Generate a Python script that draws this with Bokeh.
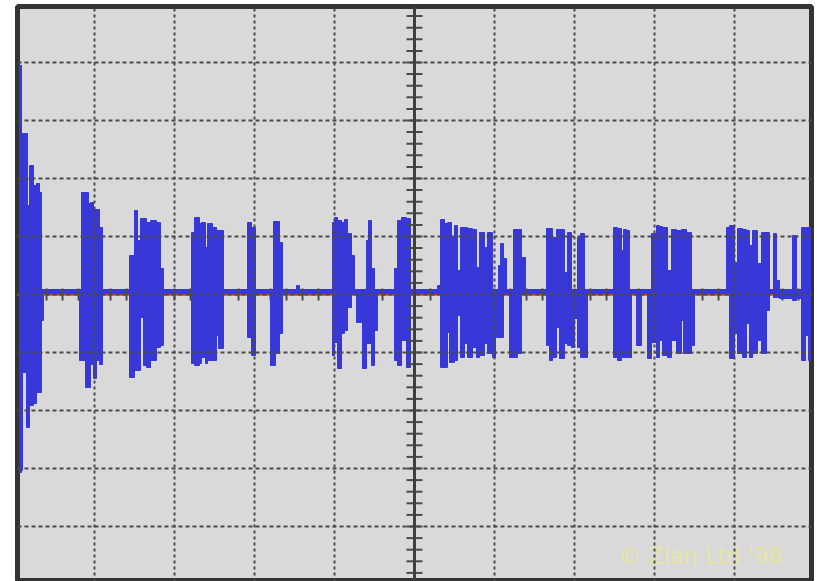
from bokeh.plotting import figure
from bokeh.models import Range1d, Grid, FixedTicker, Span, Label, ColumnDataSource
from bokeh.embed import file_html
from bokeh.resources import INLINE

# Time axis: 0..800 (80 units per division); voltage axis: 58 units per division
x_major = [80, 160, 240, 320, 480, 560, 640, 720]
y_major = [-232, -174, -116, -58, 0, 58, 116, 174, 232]
x_minor = list(range(16, 800, 16))
y_minor = [round(11.6 * k, 1) for k in range(-24, 25) if k != 0]

# Blue trace: flat level between bursts
flat_t = [5, 796]
flat_v = [3, 3]
# Red reference trace
ref_t = [0, 800]
ref_v = [0, 0]

# Blue trace bursts: envelope columns (start, end, peak high, peak low)
col_t0 = [5, 7, 8, 12, 13, 15, 19, 22, 25, 27,
          65, 67, 71, 74, 76, 79, 82, 85,
          115, 120, 123, 126, 129, 132, 136, 142, 146,
          177, 180, 185, 187, 191, 193, 198, 202, 204,
          233, 237,
          256, 259, 261, 263, 265,
          282,
          318, 320, 323, 327, 330, 333, 337,
          342,
          348, 352, 354, 357, 360,
          380, 383, 387, 392,
          423, 426, 430, 433, 435, 437, 440, 443, 446, 450, 453, 458, 462, 465, 470, 473, 478,
          482, 484, 486, 489,
          495, 499, 503, 507,
          532, 535, 538, 542, 545, 550, 553, 557, 560, 563, 566, 570,
          599, 603, 607, 609, 612, 615, 622,
          633, 637, 642, 645, 648, 653, 657, 662, 667, 669, 672, 677,
          712, 715, 720, 723, 728, 732, 735, 738, 743, 747, 752,
          759, 762, 765, 778,
          787, 791, 794]
col_t1 = [7, 8, 12, 13, 15, 19, 22, 25, 27, 29,
          67, 71, 74, 76, 79, 82, 85, 88,
          120, 123, 126, 129, 132, 136, 142, 146, 149,
          180, 185, 187, 191, 193, 198, 202, 204, 209,
          237, 241,
          259, 261, 263, 265, 268,
          285,
          320, 323, 327, 330, 333, 337, 340,
          347,
          352, 354, 357, 360, 363,
          383, 387, 392, 396,
          426, 430, 433, 435, 437, 440, 443, 446, 450, 453, 458, 462, 465, 470, 473, 478, 481,
          484, 486, 489, 492,
          499, 503, 507, 511,
          535, 538, 542, 545, 550, 553, 557, 560, 563, 566, 570, 573,
          603, 607, 609, 612, 615, 617, 627,
          637, 642, 645, 648, 653, 657, 662, 667, 669, 672, 677, 680,
          715, 720, 723, 728, 732, 735, 738, 743, 747, 752, 755,
          762, 765, 787, 782,
          791, 794, 796]
col_hi = [229, 161, 161, 161, 89, 129, 109, 111, 102, 4,
          4, 102, 102, 91, 92, 85, 85, 67,
          39, 84, 54, 76, 76, 72, 74, 72, 26,
          62, 77, 71, 72, 47, 71, 67, 64, 64,
          72, 67,
          4, 73, 73, 73, 52,
          9,
          72, 77, 74, 72, 75, 61, 39,
          3,
          3, 54, 74, 26, 3,
          26, 74, 77, 76,
          9, 75, 71, 72, 72, 57, 69, 24, 67, 67, 66, 65, 27, 62, 47, 62, 3,
          3, 29, 51, 36,
          3, 65, 65, 37,
          66, 66, 57, 65, 65, 22, 62, 3, 3, 57, 61, 3,
          67, 66, 44, 65, 64, 3, 3,
          3, 61, 69, 68, 67, 24, 65, 64, 65, 65, 62, 3,
          67, 69, 32, 66, 65, 64, 49, 64, 31, 62, 62,
          61, 14, 2, 59,
          67, 67, 67]
col_lo = [-178, -176, -78, -133, -133, -111, -109, -98, -98, -26,
          -66, -66, -93, -93, -70, -84, -66, -70,
          -83, -76, -76, -23, -71, -73, -66, -53, -51,
          -69, -71, -69, -63, -69, -66, -66, -41, -54,
          -43, -61,
          -71, -71, -59, -59, -39,
          1,
          -61, -48, -74, -39, -36, -13, 0,
          -28,
          -74, -49, -49, -71, -36,
          -66, -71, -46, -73,
          0, -73, -73, -38, -68, -68, -66, -21, -63, -49, -63, -53, -63, -61, -49, -59, -63,
          -43, -43, -43, 0,
          -63, -63, -59, 0,
          -51, -66, -63, -33, -64, -49, -51, -53, -24, -53, -63, -63,
          -63, -66, -63, -63, -63, -63, -51,
          -64, -48, -63, -46, -61, -63, -46, -59, -26, -59, -59, -51,
          0, -64, -39, -59, -63, -29, -63, -59, -46, -59, -16,
          -3, -3, -4, -6,
          -66, -41, -66]

BG = "#d9d9d9"
BLUE = "#3838d9"
RED = "#e03a3a"
DARK = "#4a4a4a"

p = figure(width=817, height=581,
           x_range=Range1d(3, 797), y_range=Range1d(-287, 288),
           x_axis_type=None, y_axis_type=None,
           toolbar_location=None, output_backend="svg",
           min_border_left=17, min_border_right=6,
           min_border_top=6, min_border_bottom=0,
           background_fill_color=BG, border_fill_color="white",
           outline_line_color="#333333", outline_line_width=5)
p.xgrid.visible = False
p.ygrid.visible = False

# red reference trace
p.line(ref_t, ref_v, line_color=RED, line_width=2.5)

# blue trace: flat level
p.line(flat_t, flat_v, line_color=BLUE, line_width=5)

# minor ticks along the centre horizontal line (over the flat trace, under bursts)
p.segment(x0=x_minor, y0=[-6] * len(x_minor), x1=x_minor, y1=[6] * len(x_minor),
          line_color=DARK, line_width=2)

# blue trace: bursts
src = ColumnDataSource(dict(left=col_t0, right=col_t1, top=col_hi, bottom=col_lo))
p.quad(left="left", right="right", top="top", bottom="bottom", source=src,
       fill_color=BLUE, line_color=BLUE, line_width=1)

# centre vertical axis with ticks
p.segment(x0=[392] * len(y_minor), y0=y_minor, x1=[408] * len(y_minor), y1=y_minor,
          line_color=DARK, line_width=2)
p.add_layout(Span(location=400, dimension="height", line_color="#3f3f3f",
                  line_width=3, level="overlay"))

# watermark
p.add_layout(Label(x=604, y=-261, text="\u00a9 Zlan Ltd '98", text_font="DejaVu Sans",
                   text_font_size="22.5px", text_color="#e8e5a4",
                   text_baseline="middle", text_align="left"))

# dotted graticule on top
p.add_layout(Grid(dimension=0, ticker=FixedTicker(ticks=x_major), grid_line_color=DARK,
                  grid_line_width=2, grid_line_dash="3 3", level="overlay"))
p.add_layout(Grid(dimension=1, ticker=FixedTicker(ticks=y_major), grid_line_color=DARK,
                  grid_line_width=2, grid_line_dash="4 3", level="overlay"))

open("out.html", "w").write(file_html(p, INLINE))
